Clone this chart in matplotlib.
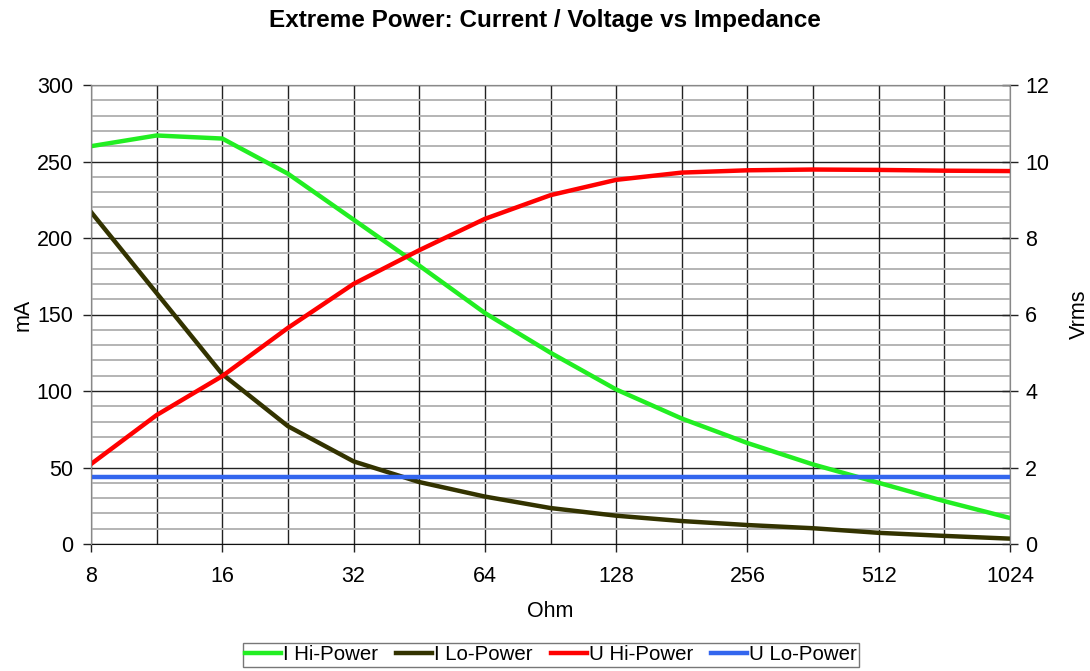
import matplotlib
matplotlib.use("Agg")
import matplotlib.pyplot as plt
import numpy as np
from matplotlib.ticker import FixedLocator, NullFormatter, FixedFormatter

plt.rcParams['font.family'] = ['Liberation Sans', 'DejaVu Sans']

# Impedance (Ohm), half-octave steps
ohm = [8, 11.31, 16, 22.63, 32, 45.25, 64, 90.51, 128, 181.0, 256, 362.0, 512, 724.1, 1024]
i_hi = [260, 267, 265, 242, 212, 182, 151, 125, 101, 82, 66, 52, 40, 28, 17]
i_lo = [217, 164, 111, 77, 54, 40.5, 31, 23.5, 18.5, 15, 12.4, 10.3, 7.3, 5.3, 3.5]
u_hi = [2.09, 3.37, 4.39, 5.65, 6.8, 7.68, 8.5, 9.12, 9.52, 9.71, 9.77, 9.79, 9.78, 9.76, 9.75]
u_lo = [1.74] * 15

x_ticks = [8, 16, 32, 64, 128, 256, 512, 1024]
x_half = [11.31, 22.63, 45.25, 90.51, 181.0, 362.0, 724.1]

FS = 15.5

fig = plt.figure(figsize=(10.9, 6.71), dpi=100)
ax = fig.add_axes([91/1090, 1-544/671, (1010-91)/1090, (544-85)/671])
ax2 = ax.twinx()

ax.set_xscale('log', base=2)
ax.set_xlim(8, 1024)
ax.set_ylim(0, 300)
ax2.set_ylim(0, 12)

ax.xaxis.set_major_locator(FixedLocator(x_ticks))
ax.xaxis.set_major_formatter(FixedFormatter([str(v) for v in x_ticks]))
ax.xaxis.set_minor_locator(FixedLocator(x_half))
ax.xaxis.set_minor_formatter(NullFormatter())
ax.set_yticks(np.arange(0, 301, 50))
ax.set_yticks(np.arange(0, 301, 10), minor=True)
ax2.set_yticks(np.arange(0, 13, 2))

ax.set_axisbelow(True)
ax.grid(which='minor', axis='y', color='#b4b4b4', lw=1.4)
ax.grid(which='major', axis='y', color='#222222', lw=1.0)
ax.grid(which='both', axis='x', color='#222222', lw=1.0)

ax.tick_params(axis='x', which='major', direction='out', length=6, width=1, color='#222222', labelsize=FS, pad=10)
ax.tick_params(axis='x', which='minor', length=0)
ax.tick_params(axis='y', which='major', direction='out', length=6, width=1, color='#222222', labelsize=FS, pad=7)
ax.tick_params(axis='y', which='minor', length=0)
ax2.tick_params(axis='y', direction='inout', length=12, width=1, color='#222222', labelsize=FS, pad=5)

for s in ['left', 'right', 'top']:
    ax.spines[s].set_color('#888888')
    ax2.spines[s].set_color('#888888')
ax.spines['bottom'].set_color('#111111')
ax2.spines['bottom'].set_visible(False)

l1, = ax.plot(ohm, i_hi, color='#22ee22', lw=3.2, solid_joinstyle='round', label='I Hi-Power')
l2, = ax.plot(ohm, i_lo, color='#333300', lw=3.2, solid_joinstyle='round', label='I Lo-Power')
l3, = ax2.plot(ohm, u_hi, color='#ff0000', lw=3.2, solid_joinstyle='round', label='U Hi-Power')
l4, = ax2.plot(ohm, u_lo, color='#3366ee', lw=3.2, solid_joinstyle='round', label='U Lo-Power')

ax.set_xlabel('Ohm', fontsize=FS, labelpad=10)
ax.set_ylabel('mA', fontsize=FS, labelpad=2)
ax2.set_ylabel('Vrms', fontsize=FS, labelpad=14)

fig.text(0.5, 1-20/671, 'Extreme Power: Current / Voltage vs Impedance', ha='center', va='center',
         fontsize=17.5, fontweight='bold')

leg = fig.legend(handles=[l1, l2, l3, l4], loc='center', bbox_to_anchor=(551/1090, 1-655/671),
                 ncol=4, fontsize=14.7, frameon=True, fancybox=False, edgecolor='#555555',
                 handlelength=1.75, handletextpad=0.1, columnspacing=0.9, borderpad=0.12,
                 borderaxespad=0)
leg.get_frame().set_linewidth(1.0)

fig.savefig('out.png', dpi=100)
